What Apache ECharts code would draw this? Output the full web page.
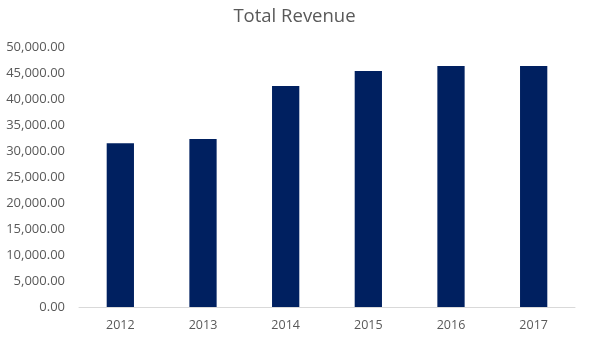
<!DOCTYPE html>
<html>
<head>
<meta charset="utf-8">
<script src="https://cdn.jsdelivr.net/npm/echarts@6/dist/echarts.min.js"></script>
<style>html,body{margin:0;padding:0;background:#fff}#c{width:589px;height:343px}</style>
</head>
<body>
<div id="c"></div>
<script>
var categories = ['2012', '2013', '2014', '2015', '2016', '2017'];
var revenue = [31550, 32350, 42600, 45450, 46450, 46450];
var yMin = 0, yMax = 50000, yInterval = 5000;

var chart = echarts.init(document.getElementById('c'), null, {renderer: 'canvas'});
chart.setOption({
  animation: false,
  backgroundColor: '#ffffff',
  title: {
    text: 'Total Revenue',
    left: 'center',
    top: 2,
    textStyle: {fontFamily: 'Open Sans', fontSize: 18.5, fontWeight: 'normal', color: '#595959'}
  },
  grid: {left: 79, right: 14, top: 47.5, bottom: 36, containLabel: false},
  xAxis: {
    type: 'category',
    data: categories,
    axisLine: {lineStyle: {color: '#d9d9d9', width: 1}},
    axisTick: {show: false},
    axisLabel: {color: '#595959', fontFamily: 'Open Sans', fontSize: 12.5, margin: 12}
  },
  yAxis: {
    type: 'value',
    min: yMin, max: yMax, interval: yInterval,
    splitLine: {show: false},
    axisLine: {show: false},
    axisTick: {show: false},
    axisLabel: {
      color: '#595959', fontFamily: 'Open Sans', fontSize: 13, margin: 14,
      formatter: function (v) {
        return v.toLocaleString('en-US', {minimumFractionDigits: 2, maximumFractionDigits: 2});
      }
    }
  },
  series: [{
    type: 'bar',
    data: revenue,
    barWidth: '33%',
    itemStyle: {color: '#002060'}
  }]
});
</script>
</body>
</html>
